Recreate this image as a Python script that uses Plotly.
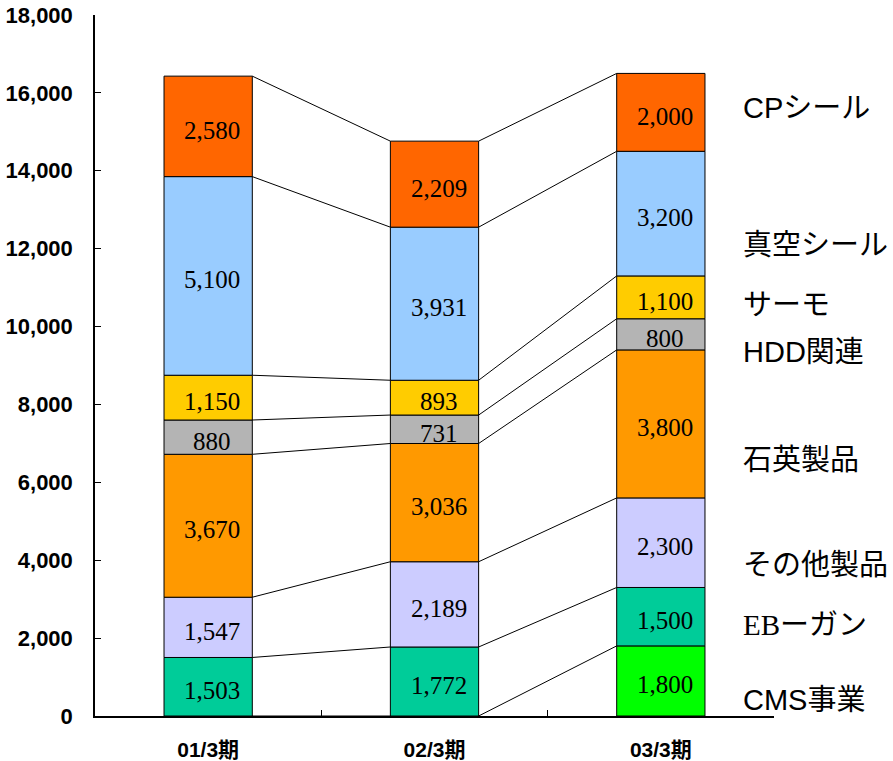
import plotly.graph_objects as go

categories = ["01/3期", "02/3期", "03/3期"]

# series values (bottom -> top)
cms_new = [0, 0, 1800]
teal_vals = [1503, 1772, 1500]
other_vals = [1547, 2189, 2300]
quartz_vals = [3670, 3036, 3800]
hdd_vals = [880, 731, 800]
thermo_vals = [1150, 893, 1100]
vacuum_vals = [5100, 3931, 3200]
cp_vals = [2580, 2209, 2000]

series = [cms_new, teal_vals, other_vals, quartz_vals, hdd_vals, thermo_vals, vacuum_vals, cp_vals]
colors = ["#00FF00", "#00CC99", "#CCCCFF", "#FF9900", "#B4B4B4", "#FFCC00", "#99CCFF", "#FF6600"]

legend_names = ["CPシール", "真空シール", "サーモ", "HDD関連", "石英製品", "その他製品", "EBーガン", "CMS事業"]
legend_y = [15600, 12100, 10550, 9350, 6580, 3880, 2340, 400]

y_ticks = [0, 2000, 4000, 6000, 8000, 10000, 12000, 14000, 16000, 18000]

BAR_W = 0.39
fig = go.Figure()

base = [0, 0, 0]
annotations = []
line_x, line_y = [], []
for vals, col in zip(series, colors):
    fig.add_trace(go.Bar(
        x=categories, y=vals, base=base[:], width=BAR_W,
        marker=dict(color=col, line=dict(color="black", width=1)),
        showlegend=False, hoverinfo="skip"))
    tops = [b + v for b, v in zip(base, vals)]
    for i, (b, v) in enumerate(zip(base, vals)):
        if v > 0:
            annotations.append(dict(
                x=categories[i], y=b + v / 2, xref="x", yref="y",
                text=f"{v:,}", showarrow=False, yshift=-4, xshift=4,
                font=dict(family="Liberation Serif, Times New Roman, serif", size=25, color="black")))
    for i in range(len(categories) - 1):
        line_x += [i + BAR_W / 2, i + 1 - BAR_W / 2, None]
        line_y += [tops[i], tops[i + 1], None]
    base = tops

fig.add_trace(go.Scatter(
    x=line_x, y=line_y, xaxis="x2", mode="lines",
    line=dict(color="black", width=1), showlegend=False, hoverinfo="skip"))

for name, yv in zip(legend_names, legend_y):
    fam = "Liberation Serif, Noto Sans CJK JP, serif" if name.startswith("EB") else "Liberation Sans, Noto Sans CJK JP, sans-serif"
    annotations.append(dict(
        x=0.951, y=yv, xref="paper", yref="y", xanchor="left", yanchor="middle",
        text=name, showarrow=False,
        font=dict(family=fam, size=29, color="black")))

fig.update_layout(
    width=893, height=761,
    margin=dict(l=95, r=119, t=15, b=45),
    paper_bgcolor="white", plot_bgcolor="white",
    barmode="overlay",
    annotations=annotations,
    xaxis=dict(
        type="category", range=[-0.5, 2.5], automargin=False,
        showline=True, linecolor="black", linewidth=1.5,
        ticks="inside", tickson="boundaries", ticklen=6, tickcolor="black",
        showgrid=False, zeroline=False,
        ticklabelstandoff=14,
        tickfont=dict(family="Liberation Sans, Noto Sans CJK JP, sans-serif", size=21, color="black", weight="bold")),
    xaxis2=dict(
        overlaying="x", range=[-0.5, 2.5], visible=False, showgrid=False, zeroline=False),
    yaxis=dict(
        range=[0, 18000], tickvals=y_ticks, tickformat=",d", automargin=False,
        showline=True, linecolor="black", linewidth=1.5,
        ticks="inside", ticklen=6, tickcolor="black",
        showgrid=False, zeroline=False,
        ticklabelstandoff=16,
        tickfont=dict(family="Liberation Sans, Noto Sans CJK JP, sans-serif", size=22, color="black", weight="bold")),
)

fig.write_html("out.html")
